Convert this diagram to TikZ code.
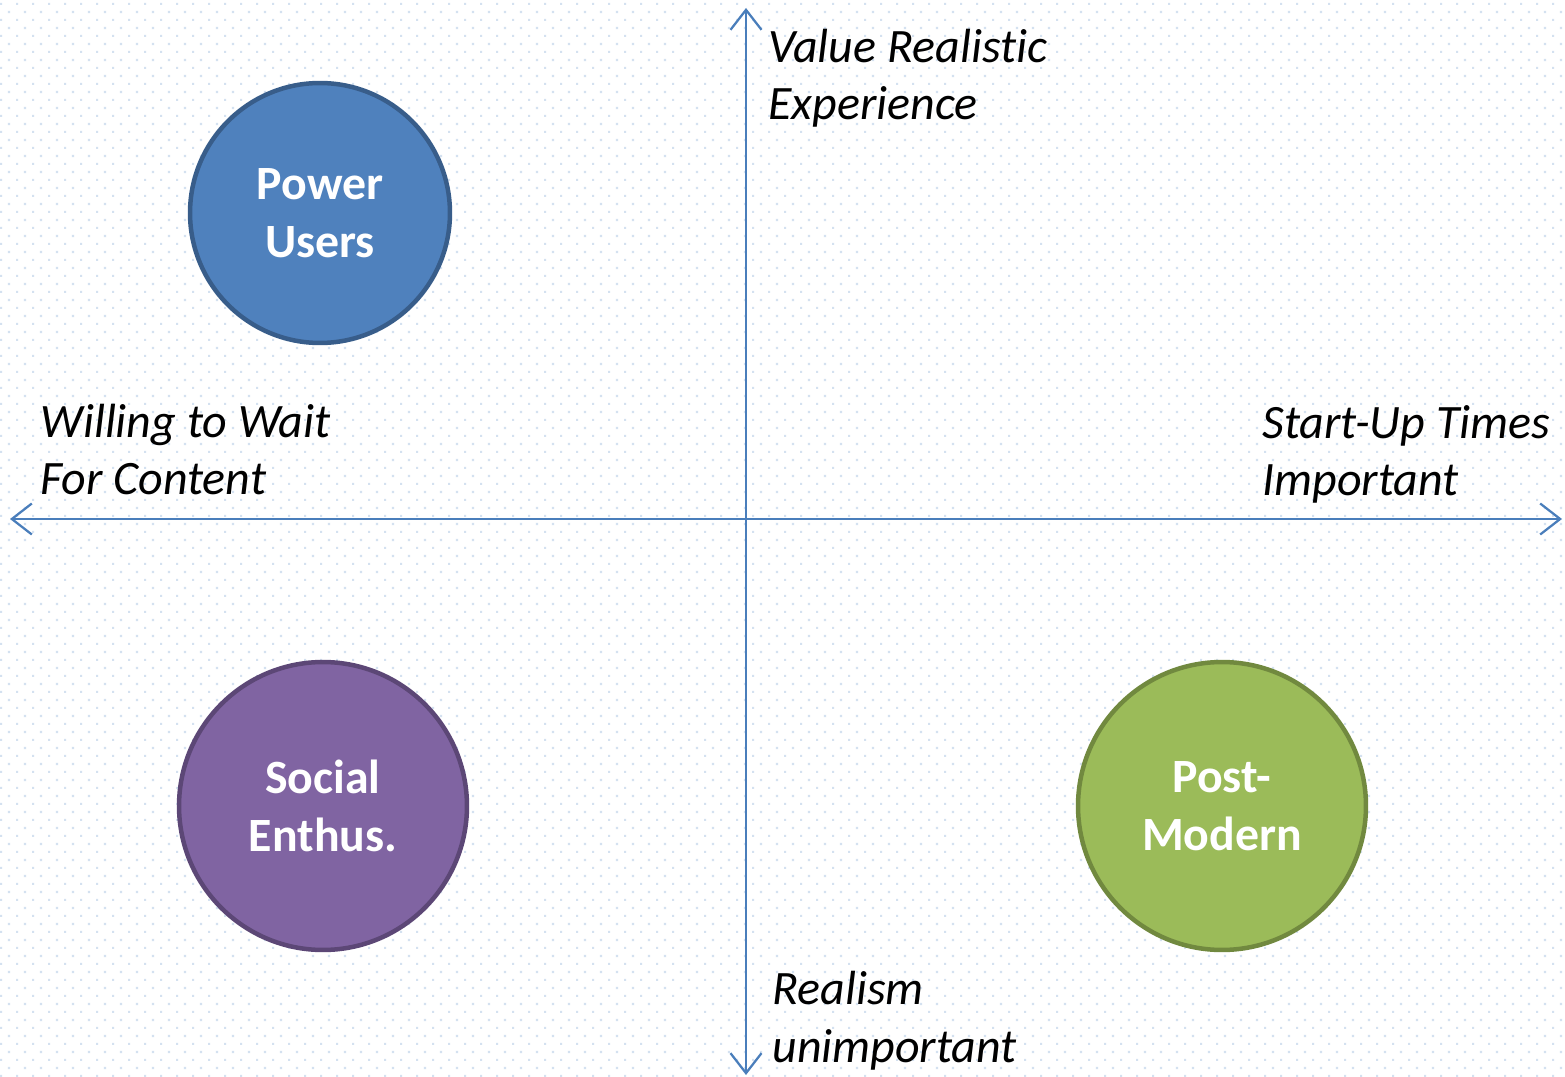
\documentclass[tikz,border=0pt]{standalone}
\usepackage{fontspec}
\setmainfont[Ligatures=NoCommon]{Carlito}
\usetikzlibrary{arrows.meta,patterns}

% staggered dot grid used as the page background
\pgfdeclarepatternformonly{bgdots}{\pgfqpoint{0pt}{0pt}}{\pgfqpoint{9.105pt}{9.105pt}}{\pgfqpoint{9.105pt}{9.105pt}}{%
  \pgfpathrectangle{\pgfqpoint{0pt}{0pt}}{\pgfqpoint{1.2pt}{1.2pt}}%
  \pgfpathrectangle{\pgfqpoint{4.55pt}{4.55pt}}{\pgfqpoint{1.2pt}{1.2pt}}%
  \pgfusepath{fill}}

\definecolor{axisblue}{RGB}{74,126,187}
\definecolor{dotblue}{RGB}{212,225,240}
\definecolor{blueFill}{RGB}{79,129,189}
\definecolor{blueEdge}{RGB}{56,93,138}
\definecolor{purpleFill}{RGB}{128,100,162}
\definecolor{purpleEdge}{RGB}{92,71,118}
\definecolor{greenFill}{RGB}{155,187,89}
\definecolor{greenEdge}{RGB}{113,137,63}

\tikzset{
  axis/.style={draw=axisblue, line width=0.045cm,
    {Straight Barb[length=0.4cm,width=0.62cm,line width=0.045cm]}-{Straight Barb[length=0.4cm,width=0.62cm,line width=0.045cm]}},
  % anchored at the baseline of the second line
  axislabel/.style={font=\fontsize{27.3}{33}\selectfont\itshape, align=left, inner sep=0pt, anchor=base west},
  segment/.style={circle, line width=0.09cm, text=white, align=center, inner sep=0pt,
    font=\fontsize{27.2}{33}\selectfont\bfseries},
}

\begin{document}
\begin{tikzpicture}[x=0.02cm, y=-0.02cm]
  % background
  \fill[white] (0,0) rectangle (1565,1077);
  \fill[pattern=bgdots, pattern color=dotblue] (0,0) rectangle (1565,1077);
  \useasboundingbox (0,0) rectangle (1565,1077);

  % axis end points
  \coordinate (top) at (746,8);
  \coordinate (bottom) at (746,1075);
  \coordinate (left) at (10,519);
  \coordinate (right) at (1562,519);

  \draw[axis] (bottom) -- (top);
  \draw[axis] (left) -- (right);

  % axis labels
  \node[axislabel] (up) at (768,120) {Value Realistic\\Experience};
  \node[axislabel] (wait) at (40,495) {Willing to Wait\\For Content};
  \node[axislabel] (startup) at (1262,496) {Start-Up Times\\Important};
  \node[axislabel] (realism) at (772,1062) {Realism\\unimportant};

  % user segments
  \node[segment, fill=blueFill, draw=blueEdge, minimum size=5.2cm] (power) at (320,213) {Power\\Users};
  \node[segment, fill=purpleFill, draw=purpleEdge, minimum size=5.76cm] (social) at (323,806) {Social\\Enthus.};
  \node[segment, fill=greenFill, draw=greenEdge, minimum size=5.76cm] (post) at (1222,806) {Post-\\Modern};
\end{tikzpicture}
\end{document}
